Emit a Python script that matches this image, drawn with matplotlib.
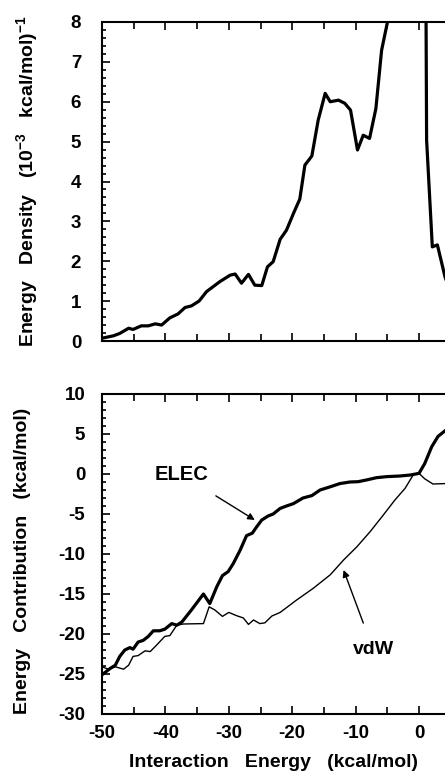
import numpy as np
import matplotlib.pyplot as plt
from matplotlib.ticker import MultipleLocator

plt.rcParams['font.family'] = ['Liberation Sans', 'DejaVu Sans']
plt.rcParams['font.weight'] = 'bold'
plt.rcParams['mathtext.fontset'] = 'custom'
plt.rcParams['mathtext.rm'] = 'Liberation Sans:bold'
plt.rcParams['mathtext.bf'] = 'Liberation Sans:bold'
plt.rcParams['mathtext.default'] = 'bf'

# energy density (10^-3 per kcal/mol), curve leaves the frame near the peak
dens_x = [-50, -48.2, -47.2, -45.8, -45.1, -43.8, -42.7, -41.6, -40.6, -39.3, -38.0,
          -36.9, -35.9, -34.7, -33.5, -31.4, -29.8, -29.0, -28.0, -26.9, -25.9, -24.8,
          -23.9, -23.0, -21.9, -20.9, -19.8, -18.8, -18.0, -16.9, -15.9, -14.8, -14.0,
          -12.7, -11.7, -10.8, -9.7, -8.8, -7.8, -6.8, -5.9, -5.0, -3.5, -1.0, 0.6,
          1.1, 1.2, 2.1, 2.9, 4.1, 5.5]
dens_y = [0.07, 0.13, 0.19, 0.32, 0.29, 0.38, 0.38, 0.43, 0.40, 0.58, 0.68,
          0.84, 0.88, 1.0, 1.24, 1.49, 1.65, 1.68, 1.45, 1.67, 1.40, 1.39,
          1.86, 1.99, 2.55, 2.78, 3.20, 3.56, 4.41, 4.64, 5.54, 6.21, 6.00,
          6.04, 5.96, 5.79, 4.79, 5.16, 5.08, 5.83, 7.29, 7.98, 10.5, 13.0, 11.0,
          8.5, 5.04, 2.36, 2.41, 1.61, 1.0]

elec_x = [-50, -48.7, -47.9, -47.2, -46.4, -45.6, -45.1, -44.3, -43.5, -42.7, -41.9,
          -40.9, -40.1, -39.0, -38.2, -37.4, -35.9, -34.0, -33.0, -31.9, -31.0, -30.1,
          -29.3, -28.2, -27.2, -26.3, -25.6, -24.8, -23.8, -23.0, -21.9, -20.9, -19.8,
          -18.3, -16.9, -15.6, -14.0, -12.5, -10.9, -9.6, -8.3, -6.7, -5.1, -3.0, -1.4,
          0.0, 0.9, 2.0, 3.0, 4.1, 5.5]
elec_y = [-25.1, -24.3, -23.9, -22.8, -22.0, -21.7, -21.9, -21.0, -20.8, -20.3, -19.6,
          -19.6, -19.4, -18.7, -18.9, -18.5, -17.0, -15.0, -16.2, -14.1, -12.7, -12.2,
          -11.2, -9.5, -7.7, -7.4, -6.6, -5.75, -5.25, -5.0, -4.3, -4.0, -3.7,
          -3.0, -2.7, -2.0, -1.6, -1.2, -1.0, -0.96, -0.75, -0.46, -0.33, -0.25, -0.13,
          0.08, 1.3, 3.4, 4.7, 5.4, 6.2]

vdw_x = [-50, -49.0, -47.9, -46.6, -45.8, -45.1, -44.3, -43.2, -42.4, -41.4, -40.1,
         -39.3, -38.2, -37.2, -34.0, -33.1, -32.2, -31.0, -30.0, -28.8, -27.7, -26.9,
         -26.1, -25.1, -24.3, -23.2, -21.9, -19.3, -16.7, -14.0, -11.9, -9.8, -7.7,
         -5.6, -3.8, -2.2, -0.9, 0.0, 0.9, 2.2, 4.1, 5.5]
vdw_y = [-24.1, -24.4, -24.1, -24.4, -23.9, -22.8, -22.7, -22.1, -22.2, -21.4, -20.3,
         -20.2, -18.9, -18.75, -18.7, -16.6, -17.0, -17.8, -17.3, -17.7, -18.0, -18.8,
         -18.25, -18.7, -18.6, -17.75, -17.3, -15.75, -14.3, -12.6, -10.75, -9.1, -7.2,
         -5.1, -3.25, -1.8, -0.1, 0.08, -0.6, -1.25, -1.2, -1.1]

x_labels = ['-50', '-40', '-30', '-20', '-10', '0']

W, H = 445, 773
fig = plt.figure(figsize=(W / 100, H / 100), dpi=100)

x0 = 102 / W
xw = 60 * 6.34 / W  # axes runs to +10, cropped at the figure edge
ax1 = fig.add_axes([x0, 1 - 341 / H, xw, 319 / H])
ax2 = fig.add_axes([x0, 1 - 714 / H, xw, 320 / H])

ax1.plot(dens_x, dens_y, color='black', lw=2.3)
ax1.set_ylim(0, 8)
ax1.yaxis.set_major_locator(MultipleLocator(1))
ax1.yaxis.set_minor_locator(MultipleLocator(0.2))
ax1.set_ylabel('Energy   Density   (10$^{-3}$   kcal/mol)$^{-1}$', fontsize=14,
               fontweight='bold', va='center')
ax1.yaxis.set_label_coords(-0.197, 0.50)
ax1.tick_params(axis='x', labelbottom=False)

ax2.plot(elec_x, elec_y, color='black', lw=2.3)
ax2.plot(vdw_x, vdw_y, color='black', lw=1.0)
ax2.set_ylim(-30, 10)
ax2.yaxis.set_major_locator(MultipleLocator(5))
ax2.yaxis.set_minor_locator(MultipleLocator(1))
ax2.set_ylabel('Energy   Contribution   (kcal/mol)', fontsize=14,
               fontweight='bold', va='center')
ax2.yaxis.set_label_coords(-0.208, 0.48)
ax2.set_xlabel('Interaction   Energy   (kcal/mol)', fontsize=14,
               fontweight='bold', va='center')
ax2.xaxis.set_label_coords(0.452, -0.153)

ax2.annotate('ELEC', xy=(-25.9, -5.75), xytext=(-37.4, -0.1), fontsize=14.5,
             fontweight='bold', ha='center', va='center',
             arrowprops=dict(arrowstyle='-|>', color='black', lw=1.0,
                             shrinkA=12, shrinkB=0, mutation_scale=10))
ax2.annotate('vdW', xy=(-11.9, -12.0), xytext=(-7.2, -22.0), fontsize=14,
             fontweight='bold', ha='center', va='center',
             arrowprops=dict(arrowstyle='-|>', color='black', lw=1.0,
                             shrinkA=12, shrinkB=0, mutation_scale=10))

for ax in (ax1, ax2):
    ax.set_xlim(-50, 10)
    ax.xaxis.set_major_locator(MultipleLocator(5))
    ax.xaxis.set_minor_locator(MultipleLocator(2.5))
    ax.tick_params(which='both', direction='in', top=True, right=False,
                   width=1.2, labelsize=13.5)
    ax.tick_params(which='major', length=6, pad=8)
    ax.tick_params(which='minor', length=3)
    for s in ax.spines.values():
        s.set_linewidth(1.5)

ax2.set_xticks([-50, -40, -30, -20, -10, 0], labels=x_labels)
ax2.set_xticks([-45, -35, -25, -15, -5, 5, 10], minor=True)
ax2.tick_params(axis='x', which='minor', length=5)
ax1.set_xticks([-50, -40, -30, -20, -10, 0])
ax1.set_xticks([-45, -35, -25, -15, -5, 5, 10], minor=True)
ax1.tick_params(axis='x', which='minor', length=5)

ax1.set_yticks(range(0, 9), labels=[str(v) for v in range(0, 9)])
ax2.set_yticks(range(-30, 11, 5), labels=[str(v) for v in range(-30, 11, 5)])
ax1.tick_params(axis='y', pad=15)
ax2.tick_params(axis='y', pad=12)

fig.savefig('out.png', dpi=100)
